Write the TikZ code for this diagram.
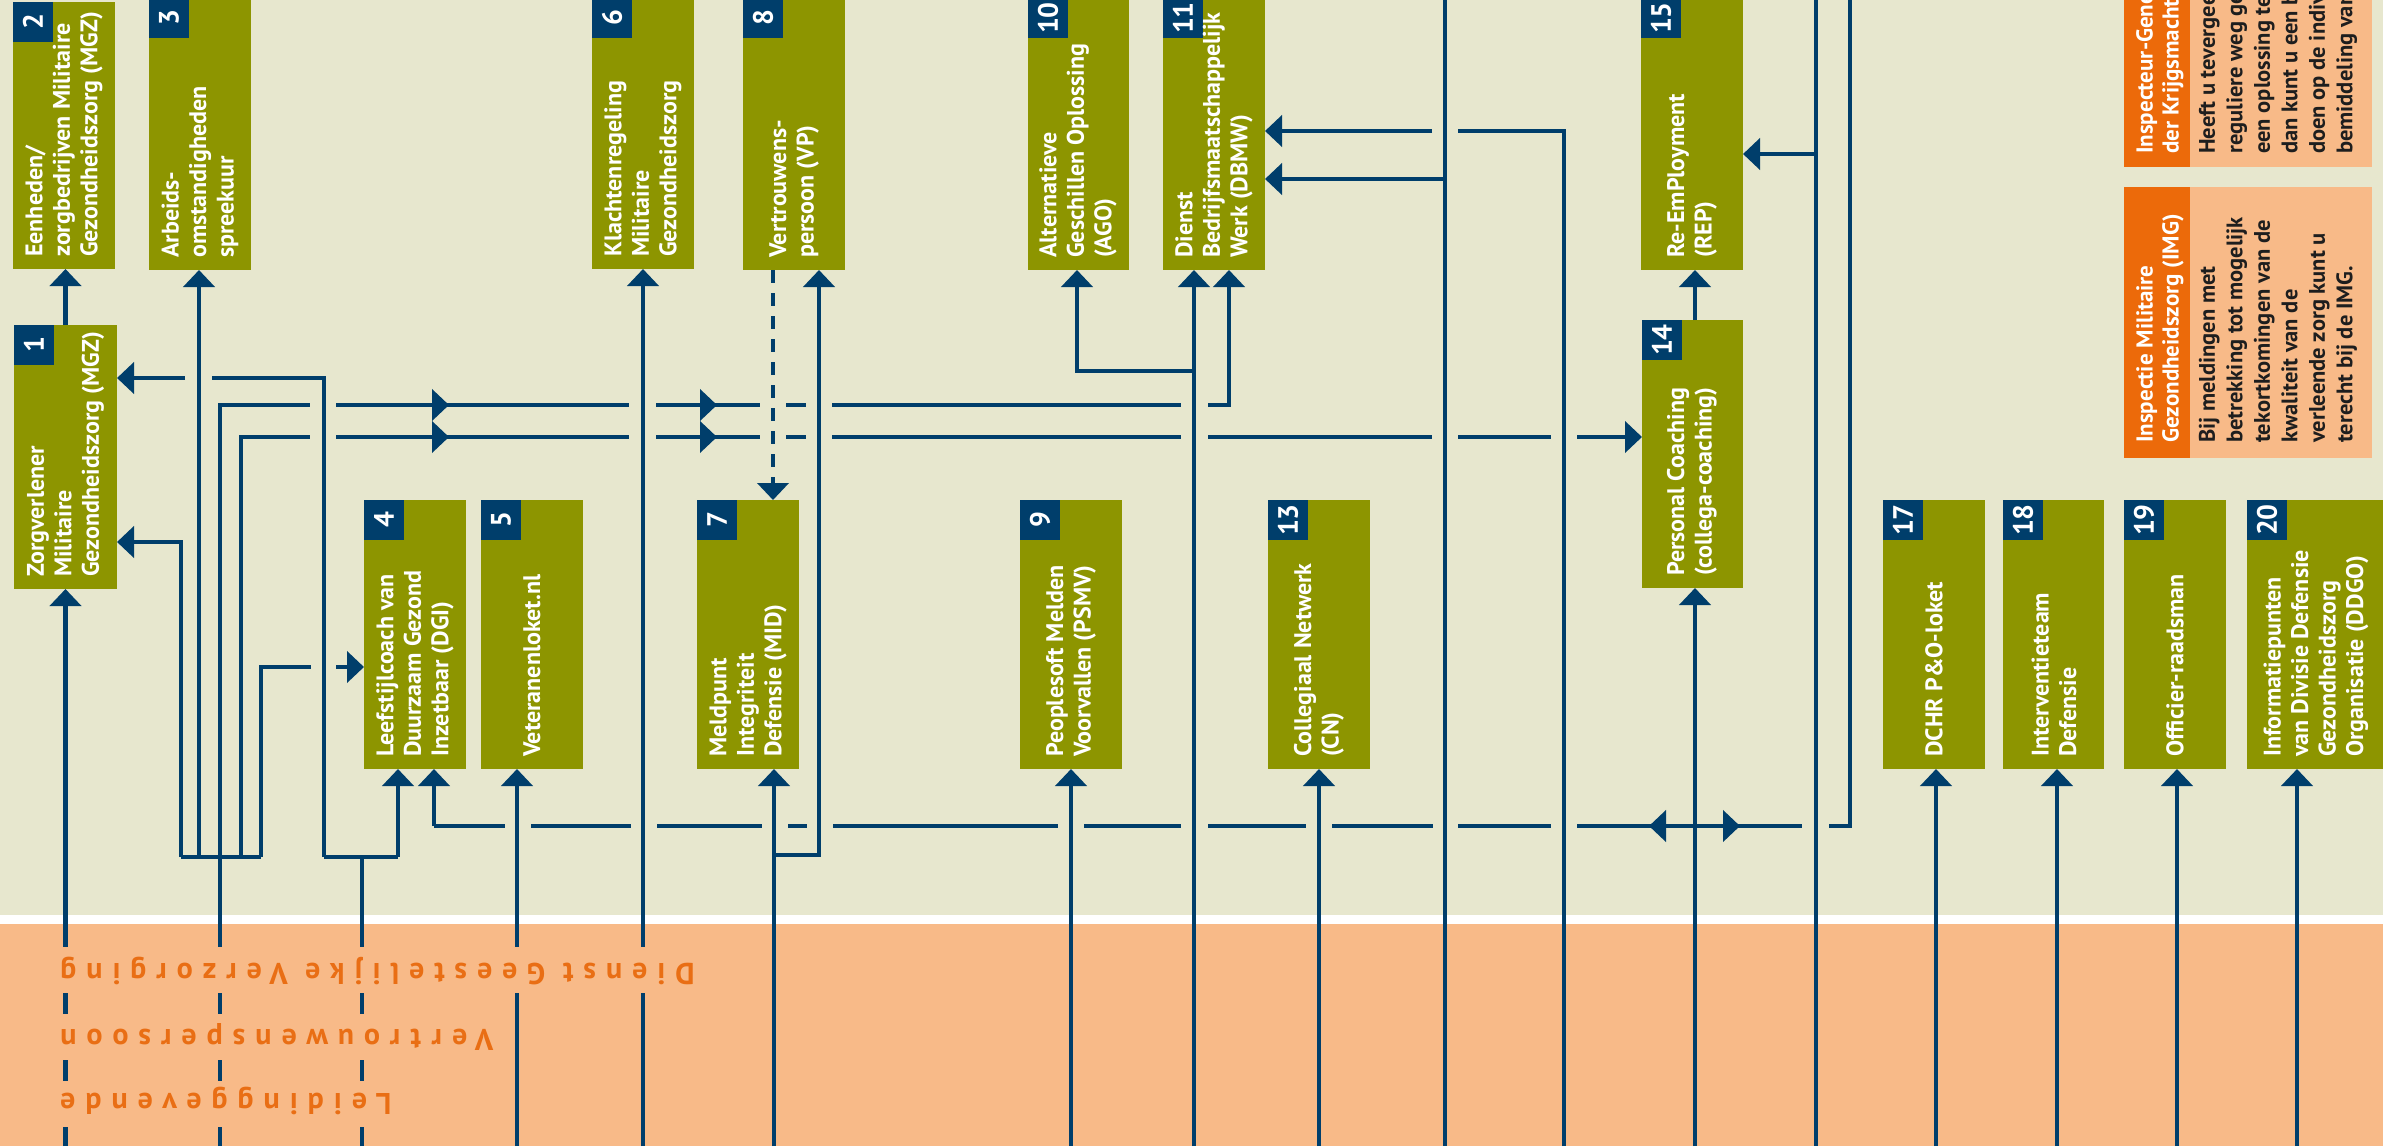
\documentclass[tikz,border=0pt]{standalone}
\usepackage{fontspec}
\setmainfont{PT Sans}
\newfontfamily\bandfont{PT Sans}[LetterSpace=33]
\usetikzlibrary{arrows.meta,calc}
\definecolor{bgtop}{RGB}{231,231,206}
\definecolor{peach}{RGB}{248,186,136}
\definecolor{olive}{RGB}{141,149,0}
\definecolor{navy}{RGB}{0,62,107}
\definecolor{orangeH}{RGB}{236,106,10}
\definecolor{orangeT}{RGB}{233,110,20}
\definecolor{textdark}{RGB}{30,30,30}
\tikzset{
 obox/.style={fill=olive, inner sep=0pt, outer sep=0pt},
 badge/.style={fill=navy, text=white, minimum size=40pt, inner sep=0pt, rotate=90, font=\bfseries\fontsize{28}{28}\selectfont},
 btxt/.style={rotate=90, anchor=west, align=left, inner sep=0pt, text=white, font=\bfseries\fontsize{24}{27.5}\selectfont},
 ptxt/.style={rotate=90, anchor=west, align=left, inner sep=0pt, font=\bfseries\fontsize{22.5}{27.5}\selectfont},
 bandtxt/.style={rotate=180, anchor=base east, inner sep=0pt, text=orangeT, font=\bandfont\bfseries\fontsize{30}{30}\selectfont},
 conn/.style={draw=navy, line width=4.5pt},
 arr/.style={-{Triangle[length=17pt,width=31pt]}},
 dsh/.style={dash pattern=on 13pt off 10pt}
}
\newcommand\olbox[8]{%
 \node[obox, minimum width={#4-#2}, minimum height={#5-#3}, anchor=north west] (#1) at (#2,#3) {};
 \node[badge] (#1n) at ({#2+20},{#3+20}) {#6};
 \node[btxt] (#1t) at (#7,{#5-12}) {#8};
}
\begin{document}
\begin{tikzpicture}[x=1pt,y=-1pt]
\clip (0,0) rectangle (2383,1146);
% backgrounds
\fill[bgtop] (0,0) rectangle (2383,915);
\fill[white] (0,915) rectangle (2383,924);
\fill[peach] (0,924) rectangle (2383,1146);

% boxes
\olbox{b1}{14}{325}{117}{589}{1}{65.5}{Zorgverlener\\Militaire\\Gezondheidszorg (MGZ)}
\olbox{b2}{13}{2}{115}{269}{2}{64}{Eenheden/\\zorgbedrijven Militaire\\Gezondheidszorg (MGZ)}
\olbox{b3}{149}{-2}{251}{270}{3}{200}{Arbeids-\\omstandigheden\\spreekuur}
\olbox{b4}{364}{500}{466}{769}{4}{415}{Leefstijlcoach van\\Duurzaam Gezond\\Inzetbaar (DGI)}
\olbox{b5}{481}{500}{583}{769}{5}{532}{Veteranenloket.nl}
\olbox{b6}{592}{-2}{694}{269}{6}{643}{Klachtenregeling\\Militaire\\Gezondheidszorg}
\olbox{b7}{697}{500}{799}{769}{7}{748}{Meldpunt\\Integriteit\\Defensie (MID)}
\olbox{b8}{743}{-2}{845}{270}{8}{794}{Vertrouwens-\\persoon (VP)}
\olbox{b9}{1020}{500}{1122}{769}{9}{1071}{Peoplesoft Melden\\Voorvallen (PSMV)}
\olbox{b10}{1028}{-2}{1129}{270}{10}{1078}{Alternatieve\\Geschillen Oplossing\\(AGO)}
\olbox{b11}{1163}{-2}{1265}{270}{11}{1214}{Dienst\\Bedrijfsmaatschappelijk\\Werk (DBMW)}
\olbox{b13}{1268}{500}{1370}{769}{13}{1319}{Collegiaal Netwerk\\(CN)}
\olbox{b14}{1642}{320}{1743}{588}{14}{1692}{Personal Coaching\\(collega-coaching)}
\olbox{b15}{1641}{-2}{1743}{270}{15}{1692}{Re-EmPloyment\\(REP)}
\olbox{b17}{1883}{500}{1985}{769}{17}{1934}{DCHR P\&O-loket}
\olbox{b18}{2003}{500}{2104}{769}{18}{2054}{Interventieteam\\Defensie}
\olbox{b19}{2124}{500}{2226}{769}{19}{2175}{Officier-raadsman}
\olbox{b20}{2247}{500}{2390}{769}{20}{2316}{Informatiepunten\\van Divisie Defensie\\Gezondheidszorg\\Organisatie (DDGO)}

% side panels
\node[fill=orangeH, inner sep=0pt, minimum width=66pt, minimum height=169pt, anchor=north west] (igh) at (2124,-2) {};
\node[fill=peach, inner sep=0pt, minimum width=182pt, minimum height=169pt, anchor=north west] (igb) at (2190,-2) {};
\node[ptxt, text=white, font=\bfseries\fontsize{23}{26}\selectfont] (ight) at (2160,154) {Inspecteur-Generaal\\der Krijgsmacht (IGK)};
\node[ptxt, text=textdark] (igbt) at (2278,154) {Heeft u tevergeefs via de\\reguliere weg geprobeerd\\een oplossing te vinden,\\dan kunt u een beroep\\doen op de individuele\\bemiddeling van de IGK.};
\node[fill=orangeH, inner sep=0pt, minimum width=66pt, minimum height=271pt, anchor=north west] (imgh) at (2124,187) {};
\node[fill=peach, inner sep=0pt, minimum width=182pt, minimum height=271pt, anchor=north west] (imgb) at (2190,187) {};
\node[ptxt, text=white, font=\bfseries\fontsize{23}{26}\selectfont] (imght) at (2160,443) {Inspectie Militaire\\Gezondheidszorg (IMG)};
\node[ptxt, text=textdark] (imgbt) at (2278,443) {Bij meldingen met\\betrekking tot mogelijk\\tekortkomingen van de\\kwaliteit van de\\verleende zorg kunt u\\terecht bij de IMG.};

% ---------- connectors ----------
\draw[conn,arr] (b1.north) -- (b1.north |- b2.south);
\draw[conn,arr] (b1.south |- 0,1146) -- (b1.south);
% left bundle
\draw[conn] (220,1146) -- (220,405) -- (310,405);
\draw[conn] (181,857) -- (261,857);
\draw[conn,arr] (181,857) -- (181,542) -- (b1.east |- 0,542);
\draw[conn,arr] (199,857) -- (199,0 |- b3.south);
\draw[conn] (241,857) -- (241,437) -- (310,437);
\draw[conn] (261,857) -- (261,667) -- (311,667);
\draw[conn,arr] (336,667) -- (b4.west |- 0,667);
% second bundle
\draw[conn] (362,1146) -- (362,857);
\draw[conn] (324,857) -- (398,857);
\draw[conn] (324,857) -- (324,378) -- (212,378);
\draw[conn,arr] (185,378) -- (b1.east |- 0,378);
\draw[conn,arr] (398,857) -- (398,0 |- b4.south);
% line y=405
\draw[conn] (336,405) -- (629,405);
\draw[conn] (656,405) -- (760,405);
\draw[conn] (786,405) -- (806,405);
\draw[conn] (832,405) -- (1181,405);
\draw[conn,arr] (1208,405) -- (1229,405) -- (1229,0 |- b11.south);
\draw[conn,arr] (428,405) -- (449,405);
\draw[conn,arr] (696,405) -- (717,405);
% line y=437
\draw[conn] (336,437) -- (629,437);
\draw[conn] (656,437) -- (760,437);
\draw[conn] (786,437) -- (806,437);
\draw[conn] (832,437) -- (1181,437);
\draw[conn] (1208,437) -- (1432,437);
\draw[conn] (1458,437) -- (1551,437);
\draw[conn,arr] (1577,437) -- (b14.west |- 0,437);
\draw[conn,arr] (428,437) -- (449,437);
\draw[conn,arr] (696,437) -- (717,437);
% b8 -> b7 dashed, b7, b8
\draw[conn,dsh,arr] (773,0 |- b8.south) -- (773,0 |- b7.north);
\draw[conn,arr] (774,1146) -- (774,0 |- b7.south);
\draw[conn,arr] (774,855) -- (819,855) -- (819,0 |- b8.south);
% b5, b6, b9
\draw[conn,arr] (517,1146) -- (517,0 |- b5.south);
\draw[conn,arr] (b6.south |- 0,1146) -- (b6.south);
\draw[conn,arr] (b9.south |- 0,1146) -- (b9.south);
% b10, b11
\draw[conn,arr] (1194,1146) -- (1194,0 |- b11.south);
\draw[conn,arr] (1194,371) -- (1077,371) -- (1077,0 |- b10.south);
\draw[conn,arr] (b13.south |- 0,1146) -- (b13.south);
\draw[conn] (1445,0) -- (1445,1146);
\draw[conn,arr] (1445,179) -- (b11.east |- 0,179);
\draw[conn] (1564,1146) -- (1564,131) -- (1458,131);
\draw[conn,arr] (1432,131) -- (b11.east |- 0,131);
% b14, b15
\draw[conn,arr] (1695,1146) -- (1695,0 |- b14.south);
\draw[conn,arr] (1695,0 |- b14.north) -- (1695,0 |- b15.south);
\draw[conn] (1816,0) -- (1816,1146);
\draw[conn,arr] (1816,154) -- (b15.east |- 0,154);
% line y=826
\draw[conn,arr] (434,826) -- (434,0 |- b4.south);
\draw[conn] (434,826) -- (505,826);
\draw[conn] (531,826) -- (631,826);
\draw[conn] (657,826) -- (762,826);
\draw[conn] (788,826) -- (807,826);
\draw[conn] (833,826) -- (1058,826);
\draw[conn] (1084,826) -- (1181,826);
\draw[conn] (1208,826) -- (1306,826);
\draw[conn] (1332,826) -- (1433,826);
\draw[conn] (1458,826) -- (1551,826);
\draw[conn] (1577,826) -- (1802,826);
\draw[conn] (1829,826) -- (1850,826) -- (1850,0);
\draw[conn,arr] (1670,826) -- (1649,826);
\draw[conn,arr] (1719,826) -- (1740,826);
% right column
\draw[conn,arr] (1936,1146) -- (1936,0 |- b17.south);
\draw[conn,arr] (2057,1146) -- (2057,0 |- b18.south);
\draw[conn,arr] (2177,1146) -- (2177,0 |- b19.south);
\draw[conn,arr] (2297,1146) -- (2297,0 |- b20.south);

% band text rows
\fill[peach] (40,947) rectangle (710,993);
\fill[peach] (40,1014) rectangle (500,1060);
\fill[peach] (40,1081) rectangle (395,1127);
\node[bandtxt] (r1) at (60,963) {Dienst Geestelijke Verzorging};
\node[bandtxt] (r2) at (60,1029) {Vertrouwenspersoon};
\node[bandtxt] (r3) at (60,1093) {Leidinggevende};
\end{tikzpicture}
\end{document}
